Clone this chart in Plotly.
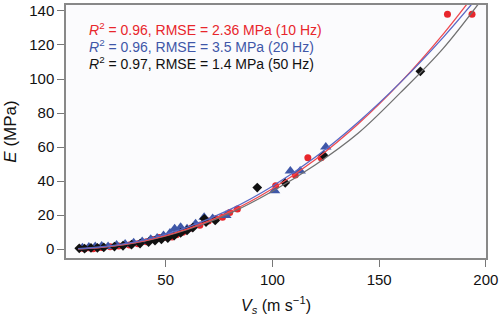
import plotly.graph_objects as go

# ---- data ----
vs_10hz = [10, 12, 14, 16, 18, 20, 24, 28, 33, 37, 41, 44, 47, 50, 53, 55, 58, 62, 66, 70,
           73.6, 76.6, 80, 83.6, 101.5, 110.7, 116.6, 122.8, 182, 193.5]
e_10hz = [0.5, 0.2, 0.8, 0.3, 0.9, 1.0, 1.4, 1.8, 2.5, 3.2, 4.4, 5.6, 6.8, 7.0, 7.2, 8.5, 10.0, 12.5, 14.0, 16.5,
          17.8, 18.8, 21.5, 23.6, 37.2, 43.6, 53.7, 53.7, 138, 138]

vs_20hz = [11, 14, 17, 20, 23, 27, 31, 35, 39, 43, 46, 49, 52, 54.2, 57, 60, 64, 68, 72, 78.2,
           101, 108.4, 113, 125]
e_20hz = [0.8, 1.2, 1.5, 1.8, 1.5, 2.4, 3.0, 3.8, 4.5, 5.8, 6.5, 8.0, 9.5, 12.0, 12.8, 12.0, 15.0, 18.8, 18.0, 19.8,
          34.3, 46.0, 46.0, 60]

vs_50hz = [9.5, 12, 15, 18, 21, 26, 30, 34, 38, 42, 45, 48, 51, 54, 57, 60, 62.7, 68.1, 68.9, 73.2,
           92.9, 106, 123.9, 169.3]
e_50hz = [0.5, 0.3, 0.7, 0.8, 1.0, 1.5, 2.0, 2.6, 3.3, 4.2, 5.0, 5.8, 6.5, 8.0, 9.5, 11.0, 12.6, 17.8, 15.9, 16.9,
          36.2, 39.0, 55.2, 104.5]

fit_vs = [9, 20, 40, 60, 80, 100, 120, 140, 160, 180, 200]
fit_10hz = [0.2, 1.1, 4.9, 11.8, 21.9, 35.5, 52.6, 73.4, 98.0, 126.4, 158.7]
fit_20hz = [0.3, 1.4, 5.5, 12.8, 23.2, 37.0, 54.0, 74.5, 98.0, 124.5, 154.0]
fit_50hz = [0.2, 1.1, 4.8, 11.5, 21.0, 34.0, 49.5, 68.0, 92.0, 118.0, 150.0]

x_ticks = [50, 100, 150, 200]
y_ticks = [0, 20, 40, 60, 80, 100, 120, 140]

RED = "#e8262c"
BLUE = "#3f57a8"
BLACK = "#111111"

fig = go.Figure()
fig.add_trace(go.Scatter(x=vs_10hz, y=e_10hz, mode="markers",
                         marker=dict(symbol="circle", size=7, color=RED)))
fig.add_trace(go.Scatter(x=vs_20hz, y=e_20hz, mode="markers",
                         marker=dict(symbol="triangle-up", size=10, color=BLUE)))
fig.add_trace(go.Scatter(x=vs_50hz, y=e_50hz, mode="markers",
                         marker=dict(symbol="diamond", size=7.5, color=BLACK)))
fig.add_trace(go.Scatter(x=fit_vs, y=fit_50hz, mode="lines", line_shape="spline",
                         line=dict(color="#707070", width=1.3)))
fig.add_trace(go.Scatter(x=fit_vs, y=fit_10hz, mode="lines", line_shape="spline",
                         line=dict(color="#ee4a50", width=1.3)))
fig.add_trace(go.Scatter(x=fit_vs, y=fit_20hz, mode="lines", line_shape="spline",
                         line=dict(color="#5a68c4", width=1.3)))

font_family = "Liberation Sans, Arial, sans-serif"
labels = [
    ("<i>R</i><sup>2</sup> = 0.96, RMSE = 2.36 MPa (10 Hz)", RED),
    ("<i>R</i><sup>2</sup> = 0.96, RMSE = 3.5 MPa (20 Hz)", BLUE),
    ("<i>R</i><sup>2</sup> = 0.97, RMSE = 1.4 MPa (50 Hz)", BLACK),
]
for i, (txt, col) in enumerate(labels):
    fig.add_annotation(x=0.05, y=0.905 - i * 0.068, xref="paper", yref="paper",
                       xanchor="left", yanchor="middle", showarrow=False,
                       text=txt, font=dict(family=font_family, size=14, color=col))

fig.update_layout(
    width=500, height=321,
    margin=dict(l=66, r=13, t=2, b=63),
    paper_bgcolor="white", plot_bgcolor="#fbfbfd",
    showlegend=False,
    font=dict(family=font_family, size=15, color="#111"),
)
fig.update_xaxes(range=[3.3, 200.05], tickvals=x_ticks, ticks="outside", ticklen=7,
                 tickcolor="#777", showline=True, linecolor="#888", linewidth=1.5,
                 mirror=True, showgrid=False, zeroline=False, ticklabeloverflow="allow",
                 title=dict(text="<i>V<sub>s</sub></i> (m s<sup>−1</sup>)", standoff=13,
                            font=dict(size=16)))
fig.update_yaxes(range=[-5.2, 143.5], tickvals=y_ticks, ticks="outside", ticklen=7,
                 tickcolor="#777", showline=True, linecolor="#888", linewidth=1.5,
                 mirror=True, showgrid=False, zeroline=False, ticklabeloverflow="allow",
                 title=dict(text="<i>E</i> (MPa)", standoff=8, font=dict(size=17)))

fig.write_html("out.html", config={"displayModeBar": False},
               post_script="document.body.style.margin='0';document.body.style.overflow='hidden';")
